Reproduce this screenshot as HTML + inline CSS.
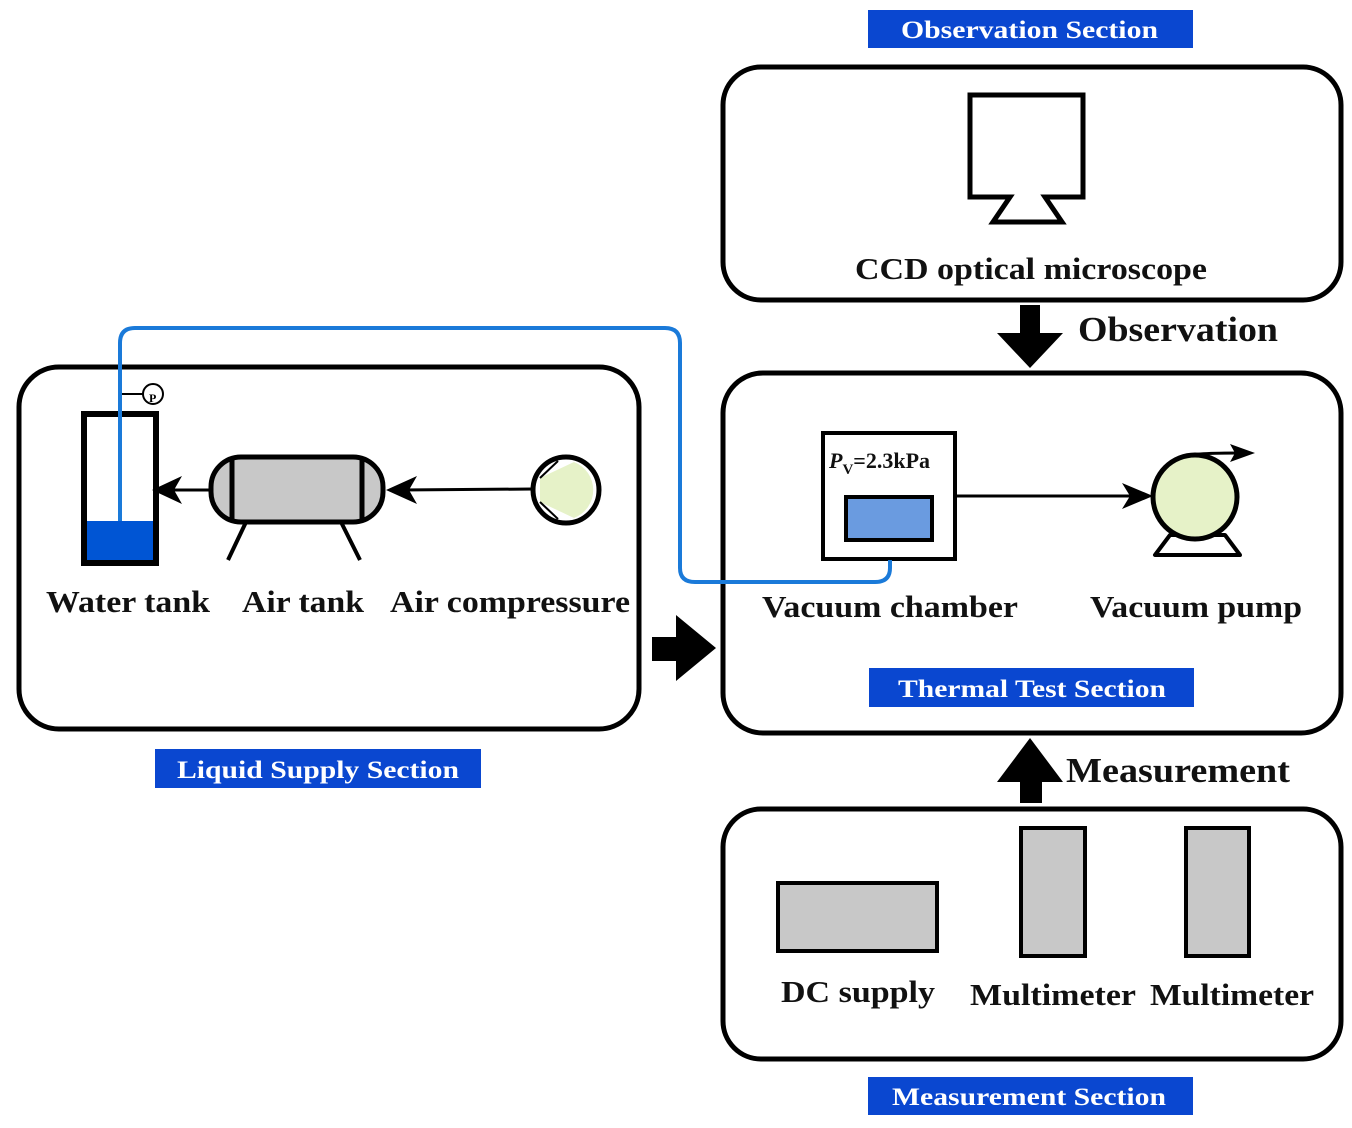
<!DOCTYPE html>
<html><head><meta charset="utf-8"><style>
html,body{margin:0;padding:0;background:#fff;}
svg{display:block;}
text{font-family:"Liberation Serif",serif;font-weight:bold;}
</style></head><body>
<svg width="1352" height="1128" viewBox="0 0 1352 1128" xmlns="http://www.w3.org/2000/svg">
<!-- Observation -->
<rect x="868" y="10" width="325" height="38" fill="#0a47d0"/>
<text x="901" y="38" font-size="25" fill="#fff" textLength="257" lengthAdjust="spacingAndGlyphs">Observation Section</text>
<rect x="723" y="67" width="618" height="233" rx="38" fill="none" stroke="#000" stroke-width="5"/>
<polygon points="970,95 1083,95 1083,197 1045,197 1062,222 993,222 1010,197 970,197" fill="#fff" stroke="#000" stroke-width="5"/>
<text x="855" y="279" font-size="31" fill="#111" textLength="352" lengthAdjust="spacingAndGlyphs">CCD optical microscope</text>
<!-- Observation arrow -->
<polygon points="1020,305 1040,305 1040,333 1063,333 1030,368 997,333 1020,333" fill="#000"/>
<text x="1078" y="341" font-size="35" fill="#111" textLength="200" lengthAdjust="spacingAndGlyphs">Observation</text>
<!-- Thermal box -->
<rect x="723" y="373" width="618" height="360" rx="40" fill="none" stroke="#000" stroke-width="5"/>
<rect x="823" y="433" width="132" height="126" fill="#fff" stroke="#000" stroke-width="4"/>
<text x="829" y="468" font-size="22" fill="#111"><tspan font-style="italic">P</tspan><tspan font-size="15" dy="6">V</tspan><tspan dy="-6">=2.3kPa</tspan></text>
<rect x="846" y="497" width="86" height="43" fill="#6a9be0" stroke="#000" stroke-width="4"/>
<line x1="955" y1="496" x2="1135" y2="496" stroke="#000" stroke-width="3"/>
<polygon points="1153,496 1122,483 1130,496 1122,509" fill="#000"/>
<polygon points="1170,535 1155,555 1240,555 1225,535" fill="#fff" stroke="#000" stroke-width="4" stroke-linejoin="round"/>
<circle cx="1195" cy="497" r="42" fill="#e6f2c8" stroke="#000" stroke-width="5"/>
<path d="M1185,456 Q1195,453 1240,453" fill="none" stroke="#000" stroke-width="3"/>
<polygon points="1255,453 1230,444 1235,453 1230,462" fill="#000"/>
<text x="762" y="617" font-size="31" fill="#111" textLength="256" lengthAdjust="spacingAndGlyphs">Vacuum chamber</text>
<text x="1090" y="617" font-size="31" fill="#111" textLength="212" lengthAdjust="spacingAndGlyphs">Vacuum pump</text>
<rect x="869" y="668" width="325" height="39" fill="#0a47d0"/>
<text x="898" y="697" font-size="25" fill="#fff" textLength="268" lengthAdjust="spacingAndGlyphs">Thermal Test Section</text>
<!-- Big right arrow -->
<polygon points="652,637 676,637 676,615 716,648 676,681 676,661 652,661" fill="#000"/>
<!-- Liquid supply -->
<rect x="19" y="367" width="620" height="362" rx="40" fill="none" stroke="#000" stroke-width="5"/>
<rect x="84" y="414" width="72" height="149" fill="#fff" stroke="#000" stroke-width="6"/>
<rect x="87" y="521" width="66" height="39" fill="#0055d4"/>
<line x1="120" y1="394" x2="143" y2="394" stroke="#000" stroke-width="2"/>
<circle cx="153" cy="394" r="10" fill="#fff" stroke="#000" stroke-width="2"/>
<text x="149" y="402" font-size="12" fill="#000">P</text>
<path d="M120,521 L120,343 Q120,328 135,328 L665,328 Q680,328 680,343 L680,568 Q680,582 695,582 L875,582 Q890,582 890,568 L890,560" fill="none" stroke="#1a7ad9" stroke-width="4"/>
<line x1="210" y1="490" x2="170" y2="490" stroke="#000" stroke-width="3"/>
<polygon points="152,490 182,476 174,490 182,504" fill="#000"/>
<line x1="247" y1="520" x2="228" y2="560" stroke="#000" stroke-width="4"/>
<line x1="340" y1="520" x2="360" y2="560" stroke="#000" stroke-width="4"/>
<rect x="211" y="457" width="172" height="65" rx="30" fill="#c8c8c8" stroke="#000" stroke-width="5"/>
<line x1="232" y1="457" x2="232" y2="522" stroke="#000" stroke-width="5"/>
<line x1="362" y1="457" x2="362" y2="522" stroke="#000" stroke-width="5"/>
<line x1="533" y1="489" x2="400" y2="490" stroke="#000" stroke-width="3"/>
<polygon points="386,490 417,476 409,490 417,504" fill="#000"/>
<circle cx="566" cy="490" r="33" fill="#fff" stroke="#000" stroke-width="5"/>
<path d="M540,478 L574,462 A30,30 0 0 1 574,518 L540,502 Z" fill="#e6f2c8"/>
<line x1="540" y1="478" x2="558" y2="461" stroke="#000" stroke-width="2"/>
<line x1="540" y1="502" x2="558" y2="519" stroke="#000" stroke-width="2"/>
<text x="46" y="612" font-size="31" fill="#111" textLength="164" lengthAdjust="spacingAndGlyphs">Water tank</text>
<text x="242" y="612" font-size="31" fill="#111" textLength="122" lengthAdjust="spacingAndGlyphs">Air tank</text>
<text x="390" y="612" font-size="31" fill="#111" textLength="240" lengthAdjust="spacingAndGlyphs">Air compressure</text>
<rect x="155" y="749" width="326" height="39" fill="#0a47d0"/>
<text x="177" y="778" font-size="25" fill="#fff" textLength="282" lengthAdjust="spacingAndGlyphs">Liquid Supply Section</text>
<!-- Measurement arrow -->
<polygon points="1030,738 1063,782 1042,782 1042,803 1020,803 1020,782 997,782" fill="#000"/>
<text x="1066" y="782" font-size="35" fill="#111" textLength="224" lengthAdjust="spacingAndGlyphs">Measurement</text>
<!-- Measurement box -->
<rect x="723" y="809" width="618" height="250" rx="38" fill="none" stroke="#000" stroke-width="5"/>
<rect x="778" y="883" width="159" height="68" fill="#c8c8c8" stroke="#000" stroke-width="4"/>
<rect x="1021" y="828" width="64" height="128" fill="#c8c8c8" stroke="#000" stroke-width="4"/>
<rect x="1186" y="828" width="63" height="128" fill="#c8c8c8" stroke="#000" stroke-width="4"/>
<text x="781" y="1002" font-size="31" fill="#111" textLength="154" lengthAdjust="spacingAndGlyphs">DC supply</text>
<text x="970" y="1005" font-size="31" fill="#111" textLength="166" lengthAdjust="spacingAndGlyphs">Multimeter</text>
<text x="1150" y="1005" font-size="31" fill="#111" textLength="164" lengthAdjust="spacingAndGlyphs">Multimeter</text>
<rect x="868" y="1077" width="325" height="38" fill="#0a47d0"/>
<text x="892" y="1105" font-size="25" fill="#fff" textLength="274" lengthAdjust="spacingAndGlyphs">Measurement Section</text>
</svg>
</body></html>
